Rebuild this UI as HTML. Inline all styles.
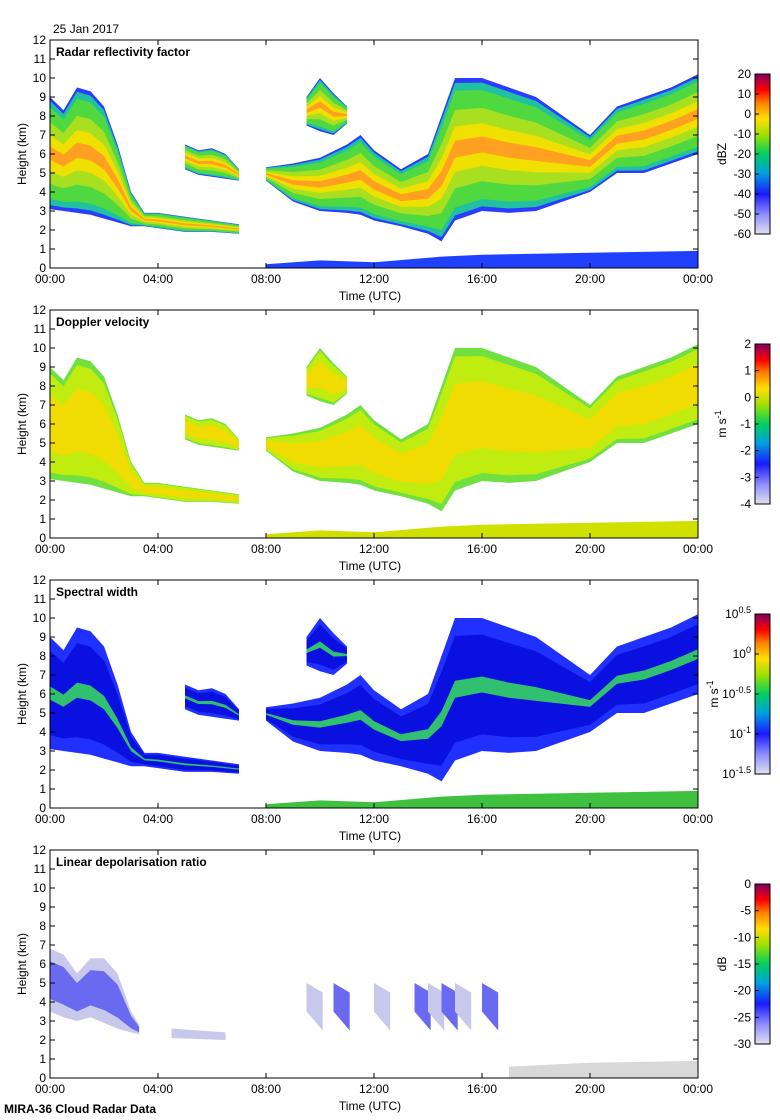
<!DOCTYPE html>
<html><head><meta charset="utf-8">
<style>
html,body{margin:0;padding:0;background:#fff;}
svg{display:block;font-family:"Liberation Sans",sans-serif;}
</style></head>
<body>
<svg id="chart" width="780" height="1120" viewBox="0 0 780 1120" xmlns="http://www.w3.org/2000/svg">
<defs>
<linearGradient id="cmap" x1="0" y1="1" x2="0" y2="0">
<stop offset="0" stop-color="#e0e0ee"/>
<stop offset="0.12" stop-color="#9090ff"/>
<stop offset="0.25" stop-color="#1a1aff"/>
<stop offset="0.38" stop-color="#00a0e0"/>
<stop offset="0.5" stop-color="#00d060"/>
<stop offset="0.62" stop-color="#a0e000"/>
<stop offset="0.72" stop-color="#ffe000"/>
<stop offset="0.82" stop-color="#ff8000"/>
<stop offset="0.9" stop-color="#ff0000"/>
<stop offset="1" stop-color="#800060"/>
</linearGradient>
</defs>
<text x="53" y="33" font-size="12">25 Jan 2017</text>
<text x="4" y="1113" font-size="12" font-weight="bold">MIRA-36 Cloud Radar Data</text>
</svg>
<script>
// Cloud geometry data (hours, km)
const mainTimes = [8, 9, 10, 11, 11.5, 12, 13, 14, 14.5, 15, 16, 17, 18, 19, 20, 21, 22, 23, 24];
const mainTops  = [5.3, 5.5, 5.8, 6.5, 7, 6.2, 5.2, 6, 8, 10, 10, 9.5, 9, 8, 7, 8.5, 9, 9.5, 10.2];
const mainBases = [4.6, 3.5, 3, 2.9, 2.8, 2.5, 2.2, 1.8, 1.4, 2.5, 3, 2.9, 3, 3.5, 4, 5, 5, 5.5, 6];
const earlyTimes = [0, 0.5, 1, 1.5, 2, 2.5, 3, 3.5, 4, 5, 6, 7];
const earlyTops  = [9, 8.3, 9.5, 9.3, 8.5, 6.5, 4, 2.9, 2.9, 2.7, 2.5, 2.3];
const earlyBases = [3.1, 3, 2.9, 2.8, 2.6, 2.4, 2.2, 2.2, 2.1, 1.9, 1.9, 1.8];
const smallTimes = [5, 5.5, 6, 6.5, 7];
const smallTops  = [6.5, 6.2, 6.3, 6, 5.2];
const smallBases = [5.2, 4.9, 4.8, 4.7, 4.6];
const highTimes = [9.5, 10, 10.5, 11];
const highTops  = [9, 10, 9.2, 8.5];
const highBases = [7.5, 7.2, 7, 7.6];
const clutterTimes = [8, 10, 12, 14.5, 16, 20, 24];
const clutterTops  = [0.2, 0.4, 0.3, 0.6, 0.7, 0.8, 0.9];
const ldrTimes = [0, 0.5, 1, 1.5, 2, 2.5, 3, 3.3];
const ldrTops  = [6.8, 6.5, 5.5, 6.3, 6.3, 5.5, 3.5, 2.8];
const ldrBases = [3.5, 3.2, 3, 3.2, 2.9, 2.6, 2.4, 2.3];
const xTickLabels = ["00:00","04:00","08:00","12:00","16:00","20:00","00:00"];
const yTicks = [0,1,2,3,4,5,6,7,8,9,10,11,12];
const panelTitles = ["Radar reflectivity factor","Doppler velocity","Spectral width","Linear depolarisation ratio"];
const cbarLabels = [
 ["20","10","0","-10","-20","-30","-40","-50","-60"],
 ["2","1","0","-1","-2","-3","-4"],
 ["10^0.5","10^0","10^-0.5","10^-1","10^-1.5"],
 ["0","-5","-10","-15","-20","-25","-30"]
];
const cbarUnits = ["dBZ","m s-1","m s-1","dB"];

const NS = "http://www.w3.org/2000/svg";
const svg = document.getElementById("chart");
const X0 = 50, X1 = 698, PH = 228;
const panelTop = [40, 310, 580, 850];
function xs(h){ return X0 + h/24*(X1-X0); }
function ys(p, km){ return panelTop[p] + PH - km/12*PH; }
function el(tag, attrs, parent){
  const e = document.createElementNS(NS, tag);
  for (const k in attrs) e.setAttribute(k, attrs[k]);
  (parent||svg).appendChild(e); return e;
}
function poly(p, t, tops, bases, frac, fill, name, g){
  let pts = [];
  for (let i=0;i<t.length;i++){ const b=bases[i], tp=tops[i]; const m=(b+tp)/2, h=(tp-b)/2*frac; pts.push(xs(t[i])+","+ys(p,m+h)); }
  for (let i=t.length-1;i>=0;i--){ const b=bases[i], tp=tops[i]; const m=(b+tp)/2, h=(tp-b)/2*frac; pts.push(xs(t[i])+","+ys(p,m-h)); }
  const e = el("polygon",{points:pts.join(" "),fill:fill},g);
  
  
  return e;
}
const palettes = [
  [["#2a3cff",1],["#20c0a0",0.93],["#50d840",0.82],["#a8e020",0.55],["#f0e000",0.32],["#ffa020",0.12]],
  [["#70e040",1],["#c0ec10",0.88],["#f0dc00",0.5]],
  [["#2030ff",1],["#0a10e0",0.75],["#30c070",0.12]],
  [["#c8c8ec",1],["#6a6af0",0.6]]
];
const cloudSets = [
  [earlyTimes,earlyTops,earlyBases,"early-cloud"],
  [smallTimes,smallTops,smallBases,"midlevel-patch"],
  [mainTimes,mainTops,mainBases,"main-cloud"],
  [highTimes,highTops,highBases,"high-cloud-patch"]
];
for (let p=0;p<4;p++){
  const top = panelTop[p];
  const g = el("g",{});
  
  
  if (p<3){
    cloudSets.forEach(cs=>{
      palettes[p].forEach((c,i)=>poly(p,cs[0],cs[1],cs[2],c[1],c[0],cs[3]+"-layer-"+i,g));
    });
    const zeros = clutterTimes.map(()=>0);
    poly(p,clutterTimes,clutterTops,zeros,1,p===0?"#2040ff":(p===1?"#d0e000":"#40c040"),"ground-clutter",g);
  } else {
    palettes[3].forEach((c,i)=>poly(p,ldrTimes,ldrTops,ldrBases,c[1],c[0],"ldr-streak-"+i,g));
    const st=[9.5,10.5,12,13.5,14,14.5,15,16];
    st.forEach((s,i)=>{
      const e=poly(p,[s,s+0.6],[5,4.5],[3.5,2.5],1,i%2?"#6a6af0":"#c8c8ec","ldr-patch",g);
      
    });
    poly(p,[17,20,24],[0.6,0.8,0.9],[0,0,0],1,"#d8d8d8","ldr-clutter",g);
    poly(p,[4.5,6.5],[2.6,2.4],[2.1,2],1,"#c8c8ec","ldr-band",g);
  }
  const fr = el("rect",{x:X0,y:top,width:X1-X0,height:PH,fill:"none",stroke:"#000","stroke-width":1},g);
  
  
  yTicks.forEach(v=>{
    const y=ys(p,v);
    el("line",{x1:X0,x2:X0+5,y1:y,y2:y,stroke:"#000"},g);
    el("line",{x1:X1,x2:X1-5,y1:y,y2:y,stroke:"#000"},g);
    const t=el("text",{x:X0-4,y:y+4,"font-size":12,"text-anchor":"end"},g);
    t.textContent=v;
    
    
  });
  xTickLabels.forEach((l,i)=>{
    const x=xs(i*4);
    el("line",{x1:x,x2:x,y1:top+PH,y2:top+PH-5,stroke:"#000"},g);
    el("line",{x1:x,x2:x,y1:top,y2:top+5,stroke:"#000"},g);
    const t=el("text",{x:x,y:top+PH+15,"font-size":12,"text-anchor":"middle"},g);
    t.textContent=l;
    
    
  });
  const xt=el("text",{x:370,y:top+PH+32,"font-size":12,"text-anchor":"middle"},g);
  xt.textContent="Time (UTC)";
  
  
  const yt=el("text",{x:0,y:0,"font-size":12,"text-anchor":"middle",transform:"translate(26,"+(top+PH/2)+") rotate(-90)"},g);
  yt.textContent="Height (km)";
  
  
  const tt=el("text",{x:56,y:top+16,"font-size":12,"font-weight":"bold"},g);
  tt.textContent=panelTitles[p];
  
  
  const cy0=top+34, cy1=top+194;
  const cb=el("rect",{x:755,y:cy0,width:15,height:cy1-cy0,fill:"url(#cmap)",stroke:"#000"},g);
  
  
  const labs=cbarLabels[p];
  labs.forEach((l,i)=>{
    const y=cy0+i*(cy1-cy0)/(labs.length-1);
    el("line",{x1:755,x2:759,y1:y,y2:y,stroke:"#000"},g);
    const t=el("text",{x:751,y:y+4,"font-size":12,"text-anchor":"end"},g);
    if (l.indexOf("^")>=0){
      const parts=l.split("^");
      t.textContent=parts[0];
      const s=el("tspan",{"font-size":9,dy:-5},t); s.textContent=parts[1];
    } else t.textContent=l;
    
    
  });
  const ux = p===2 ? 718 : 726;
  const u=el("text",{x:0,y:0,"font-size":12,"text-anchor":"middle",transform:"translate("+ux+","+((cy0+cy1)/2)+") rotate(-90)"},g);
  if (cbarUnits[p]==="m s-1"){ u.textContent="m s"; const s=el("tspan",{"font-size":9,dy:-5},u); s.textContent="-1"; }
  else u.textContent=cbarUnits[p];
  
  
}
</script>
</body></html>
